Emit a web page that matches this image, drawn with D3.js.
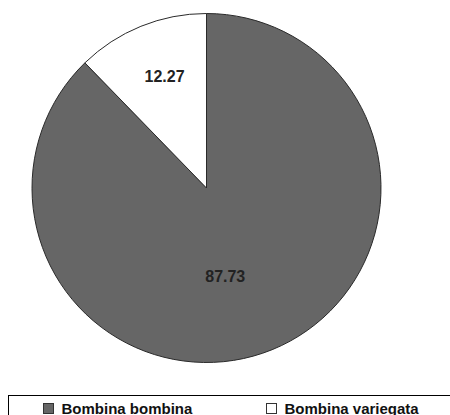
<!DOCTYPE html>
<meta charset="utf-8">
<style>

body {
  margin: 0;
  background: #fff;
}

svg {
  display: block;
  font-family: "Liberation Sans", Arial, sans-serif;
}

.label {
  font-size: 16px;
  font-weight: bold;
  fill: #222;
}

.legend text {
  font-size: 15px;
  font-weight: bold;
  fill: #111;
}

</style>
<body>
<script src="https://cdn.jsdelivr.net/npm/d3@7"></script>
<script>

var species = ["Bombina bombina", "Bombina variegata"],
    shares = [87.73, 12.27],
    shareLabels = ["87.73", "12.27"];

var width = 450,
    height = 415,
    cx = 206.5,
    cy = 188,
    radius = 174.5;

var color = d3.scaleOrdinal()
    .domain(species)
    .range(["#666666", "#ffffff"]);

// where the labels sit, as a fraction of the radius, plus a small nudge
var labelRadius = [0.56, 0.685],
    labelNudge = [[-18, -2.5], [3, -1]];

var svg = d3.select("body").append("svg")
    .attr("width", width)
    .attr("height", height);

var pie = d3.pie().sort(null).value(function(d) { return d; });

var arc = d3.arc().innerRadius(0).outerRadius(radius);

var arcs = pie(shares);

var g = svg.append("g")
    .attr("transform", "translate(" + cx + "," + cy + ")");

g.selectAll("path")
    .data(arcs)
  .enter().append("path")
    .attr("d", arc)
    .attr("fill", function(d, i) { return color(species[i]); })
    .attr("stroke", "#2a2a2a")
    .attr("stroke-width", 1)
    .attr("stroke-linejoin", "round");

g.selectAll("text.label")
    .data(arcs)
  .enter().append("text")
    .attr("class", "label")
    .attr("text-anchor", "middle")
    .attr("dy", "0.36em")
    .attr("transform", function(d, i) {
      var r = radius * labelRadius[i],
          a = (d.startAngle + d.endAngle) / 2;
      var x = Math.sin(a) * r + labelNudge[i][0],
          y = -Math.cos(a) * r + labelNudge[i][1];
      return "translate(" + x + "," + y + ")";
    })
    .text(function(d, i) { return shareLabels[i]; });

// legend box runs off the bottom and right of the picture
var legend = svg.append("g").attr("class", "legend");

legend.append("rect")
    .attr("x", 8.5)
    .attr("y", 395.5)
    .attr("width", 460)
    .attr("height", 40)
    .attr("fill", "none")
    .attr("stroke", "#000")
    .attr("stroke-width", 1);

var legendX = d3.scalePoint()
    .domain(species)
    .range([43.5, 266.5]);

var item = legend.selectAll("g.item")
    .data(species)
  .enter().append("g")
    .attr("class", "item")
    .attr("transform", function(d) { return "translate(" + legendX(d) + ",403.5)"; });

item.append("rect")
    .attr("width", 10)
    .attr("height", 10)
    .attr("fill", function(d) { return color(d); })
    .attr("stroke", "#333")
    .attr("stroke-width", 1);

item.append("text")
    .attr("x", 18)
    .attr("y", 10)
    .text(function(d) { return d; });

</script>
